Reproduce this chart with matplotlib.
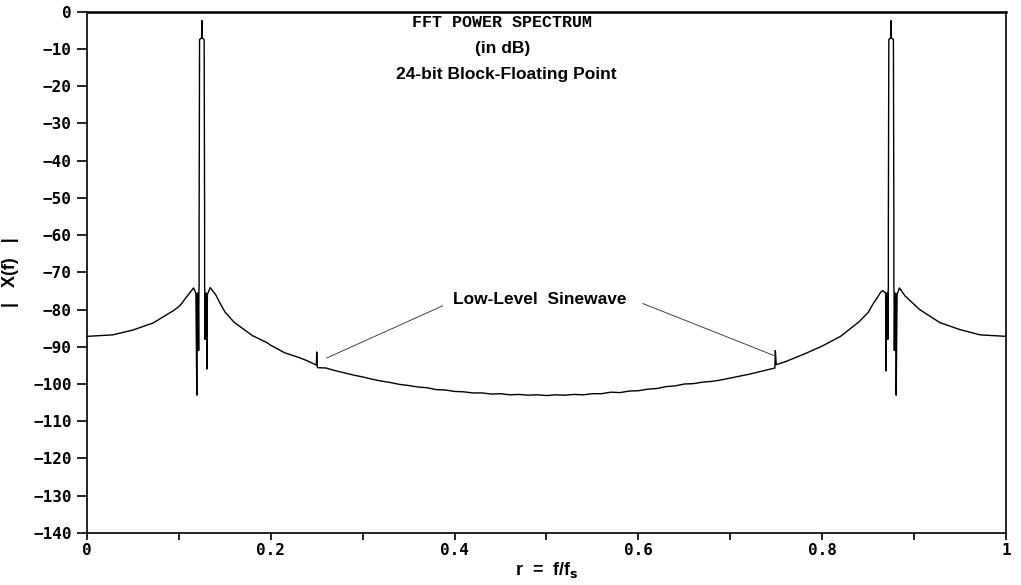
import numpy as np
import matplotlib.pyplot as plt

# spectrum trace: normalised frequency r and level in dB
freq = [0.000, 0.028, 0.050, 0.072, 0.094, 0.101, 0.109, 0.1135,
        # left tone (r = 0.125)
        0.1160, 0.1185, 0.1195, 0.1200, 0.1205, 0.1210, 0.1215, 0.1218,
        0.1220, 0.1220, 0.1225, 0.1247, 0.1250, 0.1253, 0.1275, 0.1280,
        0.1280, 0.1282, 0.1285, 0.1290, 0.1295, 0.1300, 0.1305, 0.1310, 0.1340,
        0.140, 0.145, 0.150, 0.160, 0.180, 0.196, 0.200, 0.215, 0.232, 0.240,
        # low-level tone
        0.2495, 0.2500, 0.2507, 0.260,
        0.27, 0.28, 0.29, 0.30, 0.31, 0.32, 0.33, 0.34, 0.35, 0.36, 0.37,
        0.38, 0.39, 0.40, 0.41, 0.42, 0.43, 0.44, 0.45, 0.46, 0.47, 0.48,
        0.49, 0.50, 0.51, 0.52, 0.53, 0.54, 0.55, 0.56, 0.57, 0.58, 0.59,
        0.60, 0.61, 0.62, 0.63, 0.64, 0.65, 0.66, 0.67, 0.68, 0.69, 0.70,
        0.71, 0.72, 0.73, 0.740,
        # low-level tone
        0.7485, 0.7490, 0.7500, 0.760,
        0.780, 0.800, 0.820, 0.840, 0.850, 0.855, 0.860, 0.8635,
        # right tone (r = 0.875)
        0.8660, 0.8690, 0.8695, 0.8700, 0.8705, 0.8710, 0.8715, 0.8718,
        0.8720, 0.8720, 0.8725, 0.8747, 0.8750, 0.8753, 0.8775, 0.8780,
        0.8780, 0.8782, 0.8785, 0.8790, 0.8795, 0.8800, 0.8805, 0.8815, 0.8840,
        0.890, 0.906, 0.928, 0.950, 0.972, 1.000]

level = [-87.2, -86.8, -85.5, -83.6, -80.3, -79.0, -76.4, -75.0,
         -74.2, -75.6, -103.0, -75.6, -91.0, -75.6, -91.0, -75.4,
         -74.0, -57.0, -7.5, -7.0, -2.4, -7.0, -7.5, -57.0,
         -74.0, -75.5, -88.0, -75.6, -88.0, -75.6, -96.0, -76.0, -74.1,
         -76.0, -78.4, -80.6, -83.4, -87.0, -88.9, -89.6, -91.6, -93.0, -93.8,
         -94.9, -91.4, -95.6, -95.7,
         -96.4, -97.0, -97.6, -98.1, -98.7, -99.2, -99.6, -100.1, -100.4, -100.8, -101.0,
         -101.5, -101.6, -102.0, -102.1, -102.4, -102.4, -102.7, -102.6, -102.9, -102.8, -103.0,
         -102.9, -103.1, -102.9, -103.0, -102.8, -102.9, -102.6, -102.6, -102.2, -102.3, -101.9,
         -101.8, -101.4, -101.2, -100.7, -100.5, -100.0, -99.9, -99.5, -99.3, -98.9, -98.4,
         -97.9, -97.4, -96.8, -96.2,
         -95.7, -91.0, -94.8, -94.0,
         -92.0, -89.8, -87.2, -83.3, -80.8, -78.6, -76.8, -75.4,
         -74.9, -75.6, -96.5, -75.6, -88.0, -75.6, -88.0, -75.4,
         -74.0, -57.0, -7.5, -7.0, -2.4, -7.0, -7.5, -57.0,
         -74.0, -75.5, -91.0, -75.6, -91.0, -75.6, -103.0, -76.0, -74.2,
         -76.3, -80.0, -83.5, -85.4, -86.8, -87.2]

y_ticks = np.arange(0, -141, -10)
x_ticks = [0, 0.2, 0.4, 0.6, 0.8, 1]
x_labels = ['0', '0.2', '0.4', '0.6', '0.8', '1']

fig = plt.figure(figsize=(10.21, 5.85), dpi=100)
ax = fig.add_axes([0.0852, 0.089, 0.9001, 0.891])

ax.plot(freq, level, color='black', linewidth=1.0)

ax.set_xlim(0, 1)
ax.set_ylim(-140, 0)

mono = {'family': 'DejaVu Sans Mono', 'weight': 'bold', 'size': 11.5}
narrow = {'family': ['Liberation Sans Narrow', 'Liberation Sans'], 'weight': 'bold'}

ax.set_yticks(y_ticks)
ax.set_yticklabels([str(v).replace('-', '\u2212') for v in y_ticks], fontdict=mono)
ax.set_xticks(x_ticks)
ax.set_xticklabels(x_labels, fontdict=mono)
ax.set_xticks(np.arange(0.1, 1.0, 0.2), minor=True)
ax.tick_params(axis='y', which='major', direction='out', length=7, width=1.2, pad=4)
ax.tick_params(axis='x', which='both', direction='out', length=5, width=1.2, pad=2)

for side in ['left', 'right', 'bottom']:
    ax.spines[side].set_linewidth(1.2)
ax.spines['top'].set_linewidth(1.8)

ax.set_xlabel('r  =  f/f$_\\mathbf{s}$', fontsize=13, labelpad=2, **narrow)
ax.set_ylabel('|   X(f)   |', fontsize=13, labelpad=10, **narrow)

# titles inside the frame
ax.text(0.452, -2.8, 'FFT POWER SPECTRUM', ha='center', va='center',
        family='Liberation Mono', weight='bold', fontsize=12)
ax.text(0.452, -9.8, '(in dB)', ha='center', va='center', fontsize=12.5, **narrow)
ax.text(0.456, -17.0, '24-bit Block-Floating Point', ha='center', va='center',
        fontsize=12.5, **narrow)

# annotation of the low-level tone
ax.text(0.493, -77.2, 'Low-Level  Sinewave', ha='center', va='center',
        fontsize=12.5, **narrow)
ax.plot([0.387, 0.261], [-79.0, -93.0], color='#444444', linewidth=0.7)
ax.plot([0.605, 0.747], [-78.4, -92.3], color='#444444', linewidth=0.7)

fig.savefig('out.png', dpi=100)
